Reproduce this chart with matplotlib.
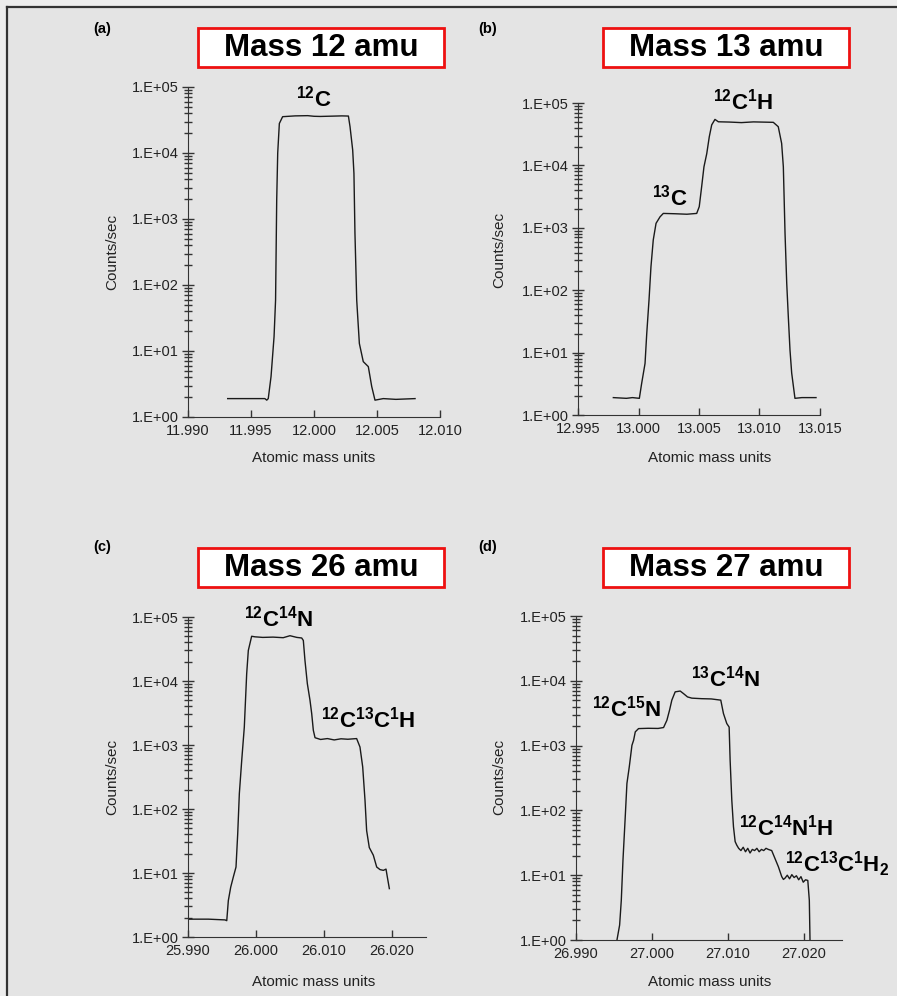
import numpy as np
import matplotlib
matplotlib.use("Agg")
import matplotlib.pyplot as plt
from matplotlib.patches import Rectangle
from matplotlib.lines import Line2D
from matplotlib.ticker import LogLocator, MultipleLocator, FuncFormatter, NullFormatter

plt.rcParams['font.family'] = ['Liberation Sans', 'DejaVu Sans']
plt.rcParams['mathtext.fontset'] = 'custom'
plt.rcParams['mathtext.rm'] = 'Liberation Sans:bold'
plt.rcParams['mathtext.it'] = 'Liberation Sans:bold'
plt.rcParams['mathtext.bf'] = 'Liberation Sans:bold'

# ---- data ----
# (a) mass 12
mass_a = [11.99315, 11.9945, 11.9955, 11.9961, 11.99625, 11.99637, 11.99659, 11.99683, 11.99695,
          11.99704, 11.99712, 11.99725, 11.99751, 11.9985, 11.9995, 12.0000, 12.0005, 12.0015,
          12.0022, 12.00273, 12.00286, 12.00307, 12.00317, 12.00325, 12.00339, 12.00347, 12.0036,
          12.00391, 12.00431, 12.00458, 12.00484, 12.0055, 12.0065, 12.00802]
cps_a = [1.9, 1.9, 1.9, 1.9, 1.8, 1.9, 4.1, 16.5, 59,
         1940, 10000, 28000, 35500, 36500, 36800, 36000, 35800, 36200,
         36500, 36300, 25000, 11100, 4900, 610, 59, 33, 13,
         6.9, 5.8, 2.9, 1.8, 1.9, 1.85, 1.9]

# (b) mass 13
mass_b = [12.99792, 12.9990, 12.9995, 13.00007, 13.00026, 13.00054, 13.00068, 13.00087, 13.00103,
          13.00122, 13.00145, 13.00178, 13.00205, 13.0030, 13.0040, 13.00481, 13.00502, 13.00522,
          13.00541, 13.00564, 13.00585, 13.00605, 13.00632, 13.0066, 13.0075, 13.0085, 13.0095,
          13.01114, 13.01155, 13.01183, 13.01197, 13.01211, 13.01225, 13.01238, 13.01252, 13.01266,
          13.01293, 13.0135, 13.01467]
cps_b = [1.9, 1.85, 1.9, 1.85, 3.2, 6.7, 20, 70, 238,
         640, 1180, 1500, 1700, 1680, 1650, 1700, 2180, 4570,
         9500, 15400, 28800, 44600, 54600, 50000, 49500, 48500, 49800,
         49000, 41700, 22500, 9500, 815, 129, 38, 11, 4.7,
         1.85, 1.9, 1.9]

# (c) mass 26
mass_c = [25.99004, 25.9930, 25.99544, 25.9957, 25.99593, 25.99628, 25.99667, 25.99706, 25.99731,
          25.99755, 25.9979, 25.99828, 25.99863, 25.99887, 25.99936, 25.99985, 26.0010, 26.0025,
          26.0040, 26.0050, 26.0060, 26.00672, 26.00696, 26.0072, 26.00755, 26.00794, 26.00819,
          26.00843, 26.00868, 26.0095, 26.0105, 26.0115, 26.0125, 26.0135, 26.0148, 26.01529,
          26.01569, 26.01603, 26.01627, 26.01666, 26.01725, 26.01775, 26.01824, 26.01873, 26.01912,
          26.01931, 26.01961]
cps_c = [1.9, 1.9, 1.85, 1.8, 3.7, 6.0, 8.7, 12.4, 41,
         174, 575, 1900, 13000, 30000, 50000, 49000, 48000, 48500,
         47500, 51000, 48000, 47000, 43000, 21000, 9100, 5000, 3100,
         1700, 1300, 1220, 1260, 1200, 1250, 1230, 1260, 930,
         455, 137, 46, 25, 19, 12.4, 11.3, 11, 11.5,
         8.7, 5.7]

# (d) mass 27
mass_d = [26.99539, 26.99574, 26.99596, 26.99618, 26.99648, 26.9967, 26.99701, 26.99736, 26.99758,
          26.9978, 26.99823, 26.9995, 27.0008, 27.00152, 27.00196, 27.00231, 27.00261, 27.00305,
          27.00371, 27.00415, 27.00467, 27.00524, 27.0065, 27.0078, 27.00905, 27.0094, 27.00984,
          27.01015, 27.01028, 27.0105, 27.01072, 27.01094, 27.01116,
          27.0114, 27.0117, 27.0120, 27.0123, 27.0126, 27.0129, 27.0132, 27.0135, 27.0138, 27.0141,
          27.0144, 27.0147, 27.0150, 27.0153,
          27.01575, 27.01619, 27.01663, 27.01707, 27.01729,
          27.0175, 27.0178, 27.0181, 27.0184, 27.0187, 27.0190, 27.0193, 27.0196, 27.0199, 27.0202,
          27.0205, 27.0207, 27.02079]
cps_d = [1.0, 1.7, 4.1, 17, 80, 260, 470, 1010, 1210,
         1630, 1830, 1850, 1840, 1900, 2460, 3530, 5030, 6750,
         6950, 6340, 5640, 5400, 5300, 5250, 5030, 3130, 2190,
         1930, 596, 144, 56, 33, 29,
         26, 24, 27, 23, 26, 22, 25, 24, 26, 23,
         25, 24, 26, 25,
         24, 18, 13.5, 9.5, 8.6,
         9.0, 10, 8.8, 10.2, 9.2, 9.8, 8.5, 9.5, 7.8, 8.5,
         8.3, 4.1, 1.0]

titles = ["Mass 12 amu", "Mass 13 amu", "Mass 26 amu", "Mass 27 amu"]
panel_tags = ["(a)", "(b)", "(c)", "(d)"]
xlims = [(11.990, 12.010), (12.995, 13.015), (25.990, 26.025), (26.990, 27.025)]
xsteps = [0.005, 0.005, 0.010, 0.010]

peak_labels = [
    [(r'$\mathrm{^{12}C}$', 12.0000, 6.8e4)],
    [(r'$\mathrm{^{13}C}$', 13.0026, 3100), (r'$\mathrm{^{12}C^{1}H}$', 13.00866, 1.05e5)],
    [(r'$\mathrm{^{12}C^{14}N}$', 26.00328, 9.4e4), (r'$\mathrm{^{12}C^{13}C^{1}H}$', 26.01652, 2500)],
    [(r'$\mathrm{^{12}C^{15}N}$', 26.9967, 3740), (r'$\mathrm{^{13}C^{14}N}$', 27.0097, 1.08e4),
     (r'$\mathrm{^{12}C^{14}N^{1}H}$', 27.01772, 54), (r'$\mathrm{^{12}C^{13}C^{1}H_{2}}$', 27.02438, 15)],
]

W, H = 897, 996
bg = '#e4e4e4'
fig = plt.figure(figsize=(W / 100, H / 100), dpi=100, facecolor=bg)

def fx(px):
    return px / W

def fy(py):
    return 1 - py / H

# outer frame of the scanned page
fig.patches.append(Rectangle((0, 0), fx(7), 1, transform=fig.transFigure, color='#ededed', zorder=0))
fig.patches.append(Rectangle((0, fy(7)), 1, fx(7), transform=fig.transFigure, color='#ededed', zorder=0))
fig.lines.append(Line2D([fx(7), fx(7)], [0, fy(7)], transform=fig.transFigure, color='#333333', lw=1.6))
fig.lines.append(Line2D([fx(7), 1], [fy(7), fy(7)], transform=fig.transFigure, color='#333333', lw=1.6))

# axes boxes in pixels: left, right, top(1e5), bottom(1e0)
boxes = [(188, 440, 87, 417), (578, 820, 103, 415), (188, 426, 617, 937), (576, 842, 616, 940)]
title_boxes = [(198, 28), (603, 28), (198, 548), (603, 548)]
tag_pos = [(102, 29), (488, 29), (102, 547), (488, 547)]
ylab_pos = [(112, 252), (499, 250), (112, 777), (499, 777)]
xlab_pos = [(314, 458), (710, 458), (314, 982), (710, 982)]

masses = [mass_a, mass_b, mass_c, mass_d]
counts = [cps_a, cps_b, cps_c, cps_d]

for i in range(4):
    l, r, t, b = boxes[i]
    ax = fig.add_axes([fx(l), fy(b), (r - l) / W, (b - t) / H])
    ax.set_facecolor('none')
    ax.plot(masses[i], counts[i], color='#1a1a1a', lw=1.0)
    ax.set_yscale('log')
    ax.set_ylim(1, 1e5)
    ax.set_xlim(*xlims[i])
    ax.spines['top'].set_visible(False)
    ax.spines['right'].set_visible(False)
    ax.spines['left'].set_color('#333333')
    ax.spines['bottom'].set_color('#333333')
    ax.yaxis.set_major_locator(LogLocator(base=10, numticks=10))
    ax.yaxis.set_minor_locator(LogLocator(base=10, subs=np.arange(2, 10), numticks=10))
    ax.yaxis.set_major_formatter(FuncFormatter(lambda v, p: '1.E+%02d' % round(np.log10(v))))
    ax.yaxis.set_minor_formatter(NullFormatter())
    ax.xaxis.set_major_locator(MultipleLocator(xsteps[i]))
    ax.xaxis.set_major_formatter(FuncFormatter(lambda v, p: '%.3f' % v))
    ax.tick_params(axis='y', which='major', direction='inout', length=9, width=1, labelsize=10.5, pad=2, colors='#333333', labelcolor='#222222')
    ax.tick_params(axis='y', which='minor', direction='inout', length=6, width=1, colors='#333333')
    ax.tick_params(axis='x', which='major', direction='in', length=5, width=1, labelsize=10.5, pad=5, colors='#333333', labelcolor='#222222')

    for txt, xv, yv in peak_labels[i]:
        ax.text(xv, yv, txt, fontsize=16, ha='center', va='center', clip_on=False)

    # title in red frame
    bx, by = title_boxes[i]
    fig.patches.append(Rectangle((fx(bx), fy(by + 39)), 246 / W, 39 / H, transform=fig.transFigure,
                                 facecolor='white', edgecolor='#ee1111', lw=2))
    fig.text(fx(bx + 123), fy(by + 20), titles[i], fontsize=22.5, fontweight='bold', ha='center', va='center')

    fig.text(fx(tag_pos[i][0]), fy(tag_pos[i][1]), panel_tags[i], fontsize=10.5, fontweight='bold', ha='center', va='center')
    fig.text(fx(ylab_pos[i][0]), fy(ylab_pos[i][1]), "Counts/sec", fontsize=11, rotation=90, ha='center', va='center', color='#222222')
    fig.text(fx(xlab_pos[i][0]), fy(xlab_pos[i][1]), "Atomic mass units", fontsize=11, ha='center', va='center', color='#222222')

plt.savefig("out.png", dpi=100, facecolor=bg)
